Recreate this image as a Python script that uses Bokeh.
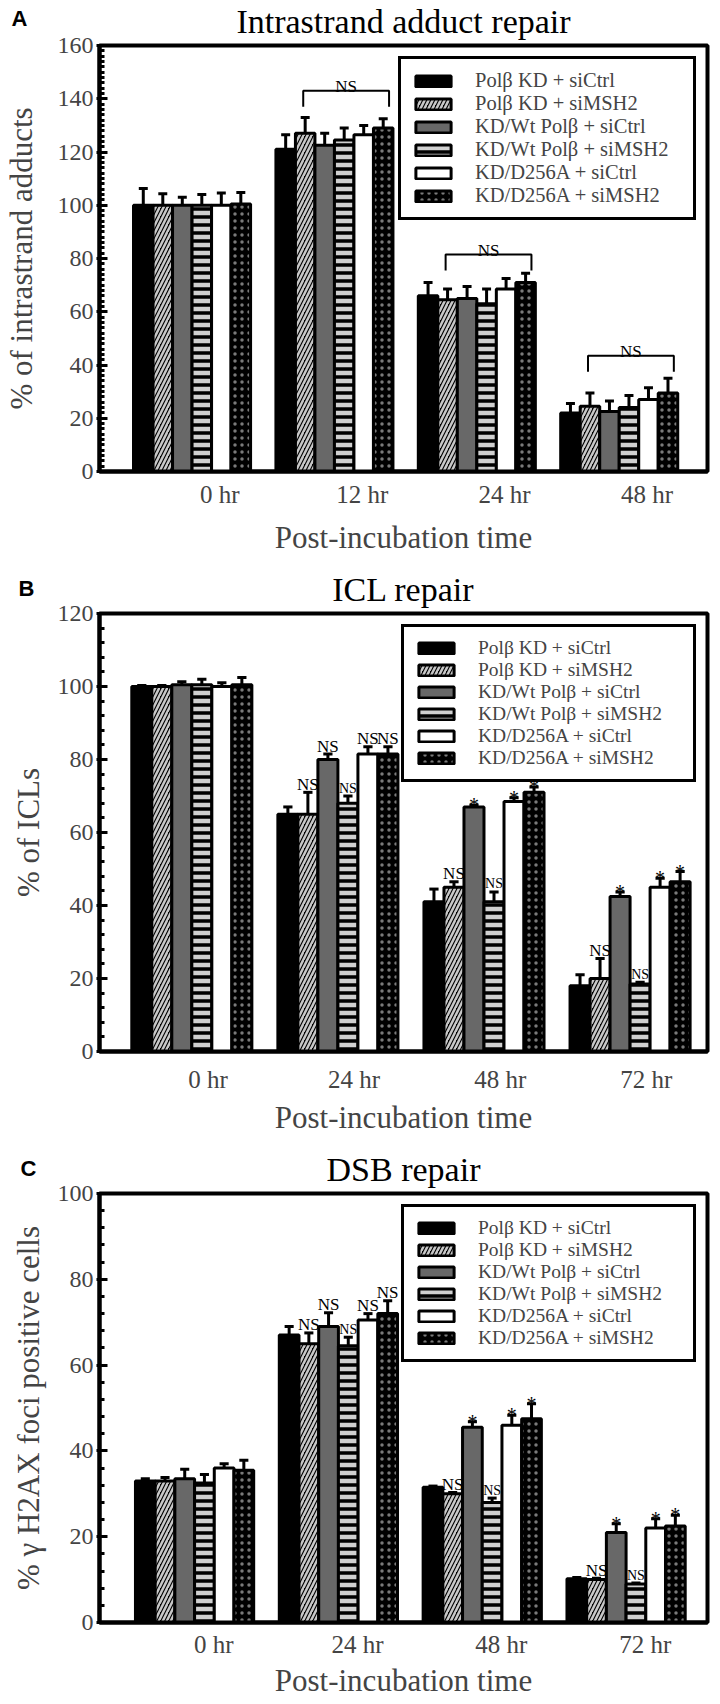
from bokeh.plotting import figure
from bokeh.models import Range1d, FixedTicker, SingleIntervalTicker, Label
from bokeh.layouts import column
from bokeh.embed import file_html
from bokeh.resources import INLINE
from bokeh.core.properties import value

SERIF = "Liberation Serif"

series_names = ["Polβ KD + siCtrl", "Polβ KD + siMSH2", "KD/Wt Polβ + siCtrl",
                "KD/Wt Polβ + siMSH2", "KD/D256A + siCtrl", "KD/D256A + siMSH2"]

# ---------------- Panel A: intrastrand adduct repair ----------------
a_groups = ["0 hr", "12 hr", "24 hr", "48 hr"]
a_means = [
    [100, 121, 66, 22],
    [100, 127, 64.5, 24.5],
    [100, 122.5, 65, 22.5],
    [100, 124.5, 63, 24],
    [100, 126.5, 68.5, 27],
    [100.5, 129, 71, 29.5],
]
a_errs = [
    [6.3, 5.5, 5, 3.5],
    [4.3, 6, 4, 5],
    [3, 4.5, 4.5, 4],
    [4, 4.5, 5.5, 4.5],
    [4.6, 3.5, 4, 4.5],
    [4.3, 3.5, 3.5, 5.5],
]
a_bracket_top = [None, 143, 81.5, 43.5]   # NS bracket height per group

# ---------------- Panel B: ICL repair ----------------
b_groups = ["0 hr", "24 hr", "48 hr", "72 hr"]
b_means = [
    [100, 65, 41, 18],
    [100, 65, 45, 20],
    [100.5, 80, 67, 42.5],
    [100.5, 68, 41, 18.5],
    [100, 81.5, 68.5, 45],
    [100.5, 81.5, 71, 46.5],
]
b_errs = [
    [0.3, 2, 3.5, 3],
    [0.3, 6, 1.5, 5.5],
    [0.8, 1.5, 0.5, 1.2],
    [1.5, 2, 2.7, 0.5],
    [1, 2, 1, 2.5],
    [2, 2, 1.5, 2.8],
]
b_marks = [
    ["", "", "", ""],
    ["", "NS", "NS", "NS"],
    ["", "NS", "*", "*"],
    ["", "NS", "NS", "NS"],
    ["", "NS", "*", "*"],
    ["", "NS", "*", "*"],
]

# ---------------- Panel C: DSB repair ----------------
c_groups = ["0 hr", "24 hr", "48 hr", "72 hr"]
c_means = [
    [33, 67, 31.5, 10.2],
    [33, 65, 30, 10],
    [33.5, 69, 45.5, 21],
    [32.5, 64.5, 28, 9],
    [36, 70.5, 46, 22],
    [35.5, 72, 47.5, 22.5],
]
c_errs = [
    [0.5, 2, 0.3, 0.3],
    [0.8, 2.5, 0.3, 0.3],
    [2.2, 3.2, 1.3, 2],
    [2, 2, 1, 0.2],
    [1, 1.5, 2.3, 2.2],
    [2.3, 3, 3.5, 2.5],
]
c_marks = [
    ["", "", "", ""],
    ["", "NS", "NS", "NS"],
    ["", "NS", "*", "*"],
    ["", "NS", "NS", "NS"],
    ["", "NS", "*", "*"],
    ["", "NS", "*", "*"],
]

# series styles
STYLES = [
    dict(fill_color="black"),
    dict(fill_color="black", hatch_pattern="/", hatch_color="#c8c8c8", hatch_weight=2.5, hatch_scale=8),
    dict(fill_color="#686868"),
    dict(fill_color="black", hatch_pattern="-", hatch_color="#d0d0d0", hatch_weight=4.5, hatch_scale=8),
    dict(fill_color="white"),
    dict(fill_color="black", hatch_pattern=".", hatch_color="#7a7a7a", hatch_weight=2.5, hatch_scale=7),
]
NS_SIZE = ["17px", "17px", "17px", "14px", "17px", "17px"]

BW = 0.137
W = 712


def make_panel(title, letter, ylabel, groups, means, errs, marks, ymax, minor, xr,
               lab_off, height, b_left, b_right, b_top, b_bottom,
               tick_std, lab_std, ylab_std, letter_x, letter_y, leg_font, leg_label_w,
               brackets=None):
    p = figure(width=W, height=height, output_backend="svg", toolbar_location=None,
               title=title,
               x_range=Range1d(*xr), y_range=Range1d(0, ymax),
               min_border_left=b_left, min_border_right=b_right,
               min_border_top=b_top, min_border_bottom=b_bottom)
    p.background_fill_color = "white"
    p.border_fill_color = "white"
    p.grid.visible = False
    p.outline_line_color = "black"
    p.outline_line_width = 4

    n = len(groups)
    # "NS" marks: drawn first so that neighbouring bars overlap them as in the original
    if marks is not None:
        for i in range(6):
            xs, ys, ts = [], [], []
            for g in range(n):
                if marks[i][g] == "NS":
                    xs.append(g + (i - 2.5) * BW)
                    ys.append(means[i][g] + errs[i][g])
                    ts.append("NS")
            if xs:
                p.text(x=xs, y=ys, text=ts, text_font=value(SERIF),
                       text_font_size=NS_SIZE[i], text_align="center",
                       text_baseline="alphabetic", y_offset=-8, text_color="black")

    for i in range(6):
        xs = [g + (i - 2.5) * BW for g in range(n)]
        p.vbar(x=xs, top=means[i], width=BW, line_color="black", line_width=3,
               legend_label=series_names[i], **STYLES[i])
        tops = [m + e for m, e in zip(means[i], errs[i])]
        p.segment(x0=xs, y0=means[i], x1=xs, y1=tops, line_color="black", line_width=3)
        p.segment(x0=[x - 0.23 * BW for x in xs], y0=tops,
                  x1=[x + 0.23 * BW for x in xs], y1=tops,
                  line_color="black", line_width=3)

    # significance stars
    if marks is not None:
        for i in range(6):
            xs, ys, ts = [], [], []
            for g in range(n):
                if marks[i][g] == "*":
                    xs.append(g + (i - 2.5) * BW)
                    ys.append(means[i][g] + errs[i][g])
                    ts.append("*")
            if xs:
                p.text(x=xs, y=ys, text=ts, text_font=value(SERIF),
                       text_font_size="20px", text_align="center",
                       text_baseline="alphabetic", y_offset=0, text_color="black",
                       level="overlay")

    if brackets is not None:
        for g in range(n):
            bt = brackets[g]
            if bt is None:
                continue
            xl = g + (1 - 2.5) * BW - 0.1 * BW
            xrr = g + (5 - 2.5) * BW + 0.3 * BW
            p.line(x=[xl, xl, xrr, xrr], y=[bt - 6, bt, bt, bt - 6],
                   line_color="black", line_width=2)
            p.text(x=[(xl + xrr) / 2], y=[bt], text=["NS"], text_font=value(SERIF),
                   text_font_size="17px", text_align="center", text_baseline="alphabetic",
                   y_offset=-4)

    # y axis
    ya = p.yaxis[0]
    ya.ticker = SingleIntervalTicker(interval=20, num_minor_ticks=minor)
    ya.axis_line_width = 4
    ya.major_tick_line_width = 3
    ya.minor_tick_line_width = 3
    ya.major_tick_in = 8
    ya.major_tick_out = 3
    ya.minor_tick_in = 5
    ya.minor_tick_out = 0
    ya.major_label_standoff = 3
    ya.major_label_text_font = SERIF
    ya.major_label_text_font_size = "24px"
    ya.axis_label = ylabel
    ya.axis_label_text_font = SERIF
    ya.axis_label_text_font_size = "31px"
    ya.axis_label_text_font_style = "normal"

    # x axis
    xa = p.xaxis[0]
    ticks = [g + lab_off for g in range(n)]
    xa.ticker = FixedTicker(ticks=ticks)
    xa.major_label_overrides = {t: groups[g] for g, t in enumerate(ticks)}
    xa.axis_line_width = 4
    xa.major_tick_line_color = None
    xa.minor_tick_line_color = None
    xa.major_tick_out = 0
    xa.major_tick_in = 0
    xa.major_label_standoff = tick_std
    xa.major_label_text_font = SERIF
    xa.major_label_text_font_size = "25px"
    xa.axis_label = "Post-incubation time"
    xa.axis_label_text_font = SERIF
    xa.axis_label_text_font_size = "31px"
    xa.axis_label_text_font_style = "normal"
    xa.axis_label_standoff = lab_std

    lg = p.legend[0]
    lg.location = "top_right"
    lg.margin = 11
    lg.border_line_color = "black"
    lg.border_line_alpha = 1
    lg.border_line_width = 3.5
    lg.padding = 10
    lg.spacing = 0
    lg.glyph_width = 44
    lg.glyph_height = 14
    lg.label_standoff = 20
    lg.label_width = leg_label_w
    lg.label_text_font = SERIF
    lg.label_text_font_size = leg_font
    lg.background_fill_alpha = 1

    # chart title: its panel is collapsed with a negative standoff so that it can share
    # the row of the panel letter, which sits in an (unclipped) top side panel
    t = p.title
    t.text_font = SERIF
    t.text_font_size = "34px"
    t.text_font_style = "normal"
    t.align = "center"
    t.vertical_align = "bottom"
    t.text_color = "black"
    collapsed = True
    try:
        t.standoff = -39
    except Exception:
        collapsed = False

    if collapsed:
        ya.axis_label_standoff = ylab_std
        p.add_layout(Label(x=letter_x - b_left, y=letter_y, x_units="screen", y_units="screen",
                           text=letter, text_font="Liberation Sans", text_font_style="bold",
                           text_font_size="22px", text_baseline="middle", text_align="left",
                           text_color="black"),
                     "above")
    else:
        t.standoff = 0
        ya.axis_label_standoff = max(ylab_std - 17, 0)
        frame_h = height - b_top - b_bottom
        p.add_layout(Label(x=letter_x, y=frame_h + letter_y, x_units="screen", y_units="screen",
                           text=letter, text_font="Liberation Sans", text_font_style="bold",
                           text_font_size="22px", text_baseline="middle", text_align="left",
                           text_color="black"),
                     "left")
    return p


pA = make_panel("Intrastrand adduct repair", "A", "% of intrastrand adducts",
                a_groups, a_means, a_errs, None, 160, 10, (-0.65, 3.62), 0.195, 560,
                93, 4, 45, 89, 9, 9, 16, 5, 27, "20.5px", 208, brackets=a_bracket_top)
pB = make_panel("ICL repair", "B", "% of ICLs",
                b_groups, b_means, b_errs, b_marks, 120, 5, (-0.632, 3.53), 0.111, 580,
                88, 5, 53, 89, 14, 4, 9, 7, 25, "19.5px", 205)
pC = make_panel("DSB repair", "C", "% γ H2AX foci positive cells",
                c_groups, c_means, c_errs, c_marks, 100, 5, (-0.661, 3.566), 0.133, 560,
                88, 4, 53, 72, 8, 2, 9, 9, 25, "19.5px", 205)

layout = column(pA, pB, pC, spacing=0)
open("out.html", "w").write(file_html(layout, INLINE))
